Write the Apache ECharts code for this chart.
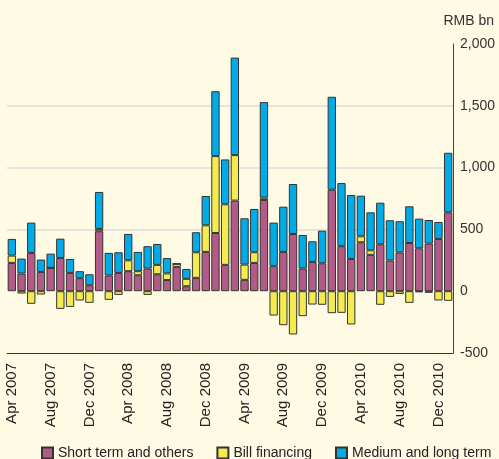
<!DOCTYPE html>
<html>
<head>
<meta charset="utf-8">
<script src="https://cdn.jsdelivr.net/npm/echarts@6/dist/echarts.min.js"></script>
<style>
  html, body { margin: 0; padding: 0; background: #fefae4; }
  #chart { width: 499px; height: 459px; }
</style>
</head>
<body>
<div id="chart"></div>
<script>
// monthly data, RMB bn
const months = [
  'Apr 2007', 'May 2007', 'Jun 2007', 'Jul 2007', 'Aug 2007', 'Sep 2007', 'Oct 2007', 'Nov 2007', 'Dec 2007',
  'Jan 2008', 'Feb 2008', 'Mar 2008', 'Apr 2008', 'May 2008', 'Jun 2008', 'Jul 2008', 'Aug 2008', 'Sep 2008',
  'Oct 2008', 'Nov 2008', 'Dec 2008', 'Jan 2009', 'Feb 2009', 'Mar 2009', 'Apr 2009', 'May 2009', 'Jun 2009',
  'Jul 2009', 'Aug 2009', 'Sep 2009', 'Oct 2009', 'Nov 2009', 'Dec 2009', 'Jan 2010', 'Feb 2010', 'Mar 2010',
  'Apr 2010', 'May 2010', 'Jun 2010', 'Jul 2010', 'Aug 2010', 'Sep 2010', 'Oct 2010', 'Nov 2010', 'Dec 2010',
  'Jan 2011'
]
const shortTerm = [229, 143, 310, 156, 189, 269, 148, 105, 48, 485, 127, 148, 162, 129, 183, 137, 90, 197,
  40, 108, 318, 471, 213, 733, 92, 229, 738, 202, 318, 463, 183, 237, 226, 821, 364, 261,
  396, 294, 380, 248, 312, 390, 347, 385, 423, 638]
const billFinancing = [59, -19, -102, -27, 0, -143, -127, -75, -94, 19, -70, -30, 88, 33, -30, 76, 54, 25,
  60, 207, 215, 622, 490, 368, 123, 86, 19, -197, -275, -350, -202, -108, -110, -178, -175, -269,
  48, 37, -110, -46, -22, -94, -8, -13, -75, -78]
const mediumLong = [135, 121, 245, 100, 115, 156, 113, 57, 89, 299, 183, 167, 213, 156, 181, 169, 124, 0,
  80, 162, 237, 525, 363, 789, 375, 350, 773, 353, 366, 404, 272, 167, 264, 752, 511, 517,
  329, 307, 336, 326, 254, 297, 240, 191, 137, 482]
const yTicks = { min: -500, max: 2000, step: 500 }

const font = 'Liberation Sans, Arial, sans-serif'
const chart = echarts.init(document.getElementById('chart'))

const barStyle = (color) => ({
  color: color,
  borderColor: '#333',
  borderWidth: 1,
})

chart.setOption({
  animation: false,
  backgroundColor: '#fefae4',
  textStyle: { fontFamily: font },
  title: {
    text: 'RMB bn',
    right: 0,
    top: 9,
    textStyle: { fontSize: 14, fontWeight: 'normal', color: '#333', fontFamily: font },
  },
  grid: {
    left: 7,
    right: 46,
    top: 44,
    bottom: 106,
  },
  legend: {
    left: 36,
    top: 441,
    width: 470,
    itemWidth: 11,
    itemHeight: 11,
    itemGap: 23,
    icon: 'rect',
    textStyle: { fontSize: 14, color: '#222', fontFamily: font },
    data: ['Short term and others', 'Bill financing', 'Medium and long term'],
  },
  xAxis: [
    {
      type: 'category',
      data: months,
      axisLine: { onZero: false, lineStyle: { color: '#333', width: 1 } },
      axisTick: { inside: true, length: 4, interval: 0, lineStyle: { color: '#333' } },
      axisLabel: {
        interval: 3,
        rotate: 90,
        margin: 10,
        fontSize: 15,
        color: '#222',
        fontFamily: font,
      },
    },
    {
      // longer ticks every 4 months
      type: 'category',
      data: months,
      position: 'bottom',
      axisLine: { show: false, onZero: false },
      axisTick: { inside: true, length: 9, interval: 3, lineStyle: { color: '#333' } },
      axisLabel: { show: false },
    },
  ],
  yAxis: {
    type: 'value',
    position: 'right',
    min: yTicks.min,
    max: yTicks.max,
    interval: yTicks.step,
    axisLine: { show: true, lineStyle: { color: '#444' } },
    axisTick: { show: false },
    axisLabel: {
      margin: 7,
      fontSize: 14,
      color: '#333',
      fontFamily: font,
      formatter: (v) => v.toLocaleString('en-US'),
    },
    splitLine: {
      show: true,
      lineStyle: {
        color: ['rgba(0,0,0,0)', 'rgba(0,0,0,0)', '#dcdcdc', '#dcdcdc', '#dcdcdc', 'rgba(0,0,0,0)'],
        width: 1.5,
      },
    },
  },
  series: [
    {
      name: 'Short term and others',
      type: 'bar',
      stack: 'total',
      barWidth: '86%',
      data: shortTerm,
      itemStyle: barStyle('#b35b88'),
    },
    {
      name: 'Bill financing',
      type: 'bar',
      stack: 'total',
      data: billFinancing,
      itemStyle: barStyle('#f3eb4f'),
    },
    {
      name: 'Medium and long term',
      type: 'bar',
      stack: 'total',
      data: mediumLong,
      itemStyle: barStyle('#00abe8'),
    },
  ],
})
</script>
</body>
</html>
